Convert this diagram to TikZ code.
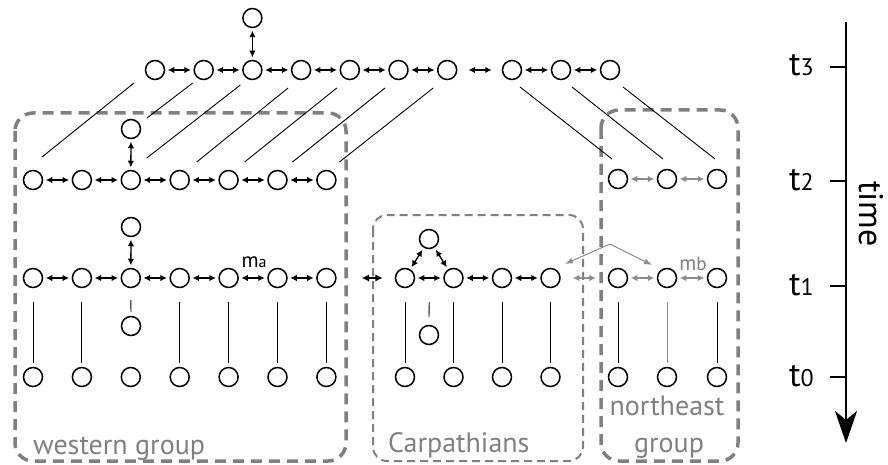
\documentclass[tikz,border=0pt]{standalone}
\usepackage{fontspec}
\setmainfont{PT Sans}
\usetikzlibrary{arrows.meta,calc}
\definecolor{grp}{RGB}{128,128,128}
\definecolor{garr}{RGB}{140,140,140}
\begin{document}
\begin{tikzpicture}[x=1pt,y=-1pt,
  circ/.style={circle,draw=black,line width=1.5pt,minimum size=19pt,inner sep=0pt},
  dbl/.style={{Latex[length=6.5pt,width=6.5pt]}-{Latex[length=6.5pt,width=6.5pt]},line width=1.3pt,shorten >=2.5pt,shorten <=2.5pt},
  gdbl/.style={dbl,draw=garr,line width=1.1pt},
  lnk/.style={line width=0.9pt},
  grpbox/.style={draw=grp,line width=3.5pt,dash pattern=on 11pt off 7pt,rounded corners=18pt},
  grplabel/.style={text=grp,font=\fontsize{28}{30}\selectfont,inner sep=0pt},
  tlabel/.style={font=\fontsize{34}{34}\selectfont,inner sep=0pt,anchor=base east},
  axisline/.style={line width=2.5pt}
]
\useasboundingbox (0,0) rectangle (888,465);

% group boxes
\draw[grpbox] (15,113) rectangle (346,461);
\draw[grpbox,line width=2pt,dash pattern=on 8pt off 5pt,rounded corners=14pt] (373,215) rectangle (583,461);
\draw[grpbox] (601,110) rectangle (738,461);

% t3 row
\foreach \i in {1,...,7}
  \node[circ] (a\i) at ({155+48.7*(\i-1)},70) {};
\foreach \i/\x in {1/512,2/561,3/610}
  \node[circ] (ar\i) at (\x,70) {};
\node[circ] (atop) at (252.4,18) {};

% t2 row
\foreach \i in {1,...,7}
  \node[circ] (b\i) at ({33+48.9*(\i-1)},180) {};
\node[circ] (btop) at (131,129) {};
\foreach \i/\x in {1/618,2/667,3/717}
  \node[circ] (bn\i) at (\x,179) {};

% t1 row
\foreach \i in {1,...,7}
  \node[circ] (c\i) at ({33+48.9*(\i-1)},278) {};
\node[circ] (ctop) at (131,227) {};
\node[circ] (cbot) at (131,326) {};
\foreach \i/\x in {1/405,2/453.5,3/502,4/550.5}
  \node[circ] (k\i) at (\x,278) {};
\node[circ] (ktop) at (429,239) {};
\node[circ] (kbot) at (429,335) {};
\foreach \i/\x in {1/618,2/667,3/717}
  \node[circ] (n\i) at (\x,278) {};

% t0 row
\foreach \i in {1,...,7}
  \node[circ] (d\i) at ({33+48.9*(\i-1)},377) {};
\foreach \i/\x in {1/405,2/453.5,3/502,4/550.5}
  \node[circ] (e\i) at (\x,377) {};
\foreach \i/\x in {1/618,2/667,3/717}
  \node[circ] (f\i) at (\x,377) {};

% horizontal migration arrows
\foreach \i [count=\j from 2] in {1,...,6} {
  \draw[dbl] (a\i) -- (a\j);
  \draw[dbl] (b\i) -- (b\j);
  \draw[dbl] (c\i) -- (c\j);
}
\draw[dbl] (ar1) -- (ar2);
\draw[dbl] (ar2) -- (ar3);
\draw[dbl,shorten <=11pt,shorten >=10pt] (a7) -- (ar1);
\draw[dbl] (atop) -- (a3);
\draw[dbl] (btop) -- (b3);
\draw[dbl] (ctop) -- (c3);
\draw[dbl] (k1) -- (k2);
\draw[dbl] (k2) -- (k3);
\draw[dbl] (k3) -- (k4);
\draw[dbl] (ktop) -- (k1);
\draw[dbl] (ktop) -- (k2);
\draw[dbl,line width=1.5pt,{Latex[length=7.5pt,width=7.5pt]}-{Latex[length=7.5pt,width=7.5pt]},shorten <=25pt,shorten >=12pt] (c7) -- (k1);
\draw[gdbl] (bn1) -- (bn2);
\draw[gdbl] (bn2) -- (bn3);
\draw[gdbl] (n1) -- (n2);
\draw[gdbl] (n2) -- (n3);
\draw[gdbl,shorten <=12pt,shorten >=12pt] (k4) -- (n1);

% gray long-distance arrows
\coordinate (apex) at (610,244);
\coordinate (gl) at (565,264);
\coordinate (gr) at (652,265);
\draw[draw=garr,line width=1pt,-{Latex[length=8pt,width=6pt]}] (apex) -- (gl);
\draw[draw=garr,line width=1pt,-{Latex[length=8pt,width=6pt]}] (apex) -- (gr);

% labels m_a, m_b
\node[inner sep=0pt] (ma) at (254,262) {\fontsize{21}{21}\selectfont m\fontsize{16}{16}\selectfont a};
\node[inner sep=0pt,text=grp] (mb) at (693,264) {\fontsize{21}{21}\selectfont m\fontsize{19}{19}\selectfont b};

% ancestry lines t2 -> t3 (western)
\draw[lnk] ($(b1)+(9,-23)$) -- ($(a1)+(-21,13)$);
\draw[lnk] ($(btop)+(16,-11)$) -- ($(a2)+(-11,13)$);
\draw[lnk] ($(b3)+(16,-22)$) -- ($(a3)+(-12,15)$);
\draw[lnk] ($(b4)+(17,-18)$) -- ($(a4)+(-13,18)$);
\draw[lnk] ($(b5)+(16,-18)$) -- ($(a5)+(-13,18)$);
\draw[lnk] ($(b6)+(15,-18)$) -- ($(a6)+(-13.5,18)$);
\draw[lnk] ($(b7)+(13,-18)$) -- ($(a7)+(-14,18)$);
% ancestry lines t3 -> t2 (northeast)
\draw[lnk] ($(ar1)+(8,17)$) -- ($(bn1)+(-6,-20)$);
\draw[lnk] ($(ar2)+(11,17)$) -- ($(bn2)+(-4,-20)$);
\draw[lnk] ($(ar3)+(13,17)$) -- ($(bn3)+(-2,-20)$);

% lines t1 -> t0
\foreach \i in {1,2,4,5,6,7}
  \draw[lnk] ($(c\i)+(0,24)$) -- ($(d\i)+(0,-14)$);
\foreach \i in {1,...,4}
  \draw[lnk] ($(k\i)+(0,24)$) -- ($(e\i)+(0,-14)$);
\draw[lnk] ($(n1)+(0,24)$) -- ($(f1)+(0,-14)$);
\draw[lnk,draw=garr] ($(n2)+(0,24)$) -- ($(f2)+(0,-14)$);
\draw[lnk] ($(n3)+(0,24)$) -- ($(f3)+(0,-14)$);
\draw[lnk] ($(c3)+(0,22)$) -- ($(cbot)+(0,-14)$);
\draw[lnk] ($(k1)!0.5!(k2)+(0,24)$) -- ($(kbot)+(0,-18)$);

% group labels
\node[grplabel,anchor=base west] (lw) at (33,454) {western group};
\node[grplabel,anchor=base west] (lc) at (388,452) {Carpathians};
\node[grplabel,anchor=base] (ln) at (667,415) {northeast};
\node[grplabel,anchor=base] (lg) at (669,452) {group};

% time axis
\coordinate (axtop) at (846,22);
\coordinate (axbot) at (846,443);
\draw[axisline,-{Stealth[length=32pt,width=22pt,inset=9pt]}] (axtop) -- (axbot);
\foreach \n/\y in {3/67,2/181,1/286,0/377} {
  \coordinate (tk\n) at (846,\y);
  \draw[axisline] ($(tk\n)+(-16,0)$) -- (tk\n);
  \node[tlabel] (tl\n) at ($(tk\n)+(-32,9)$) {t\fontsize{24}{24}\selectfont\n};
}
\node[font=\fontsize{34}{34}\selectfont,rotate=-90,inner sep=0pt] (time) at (871,214) {time};
\end{tikzpicture}
\end{document}
